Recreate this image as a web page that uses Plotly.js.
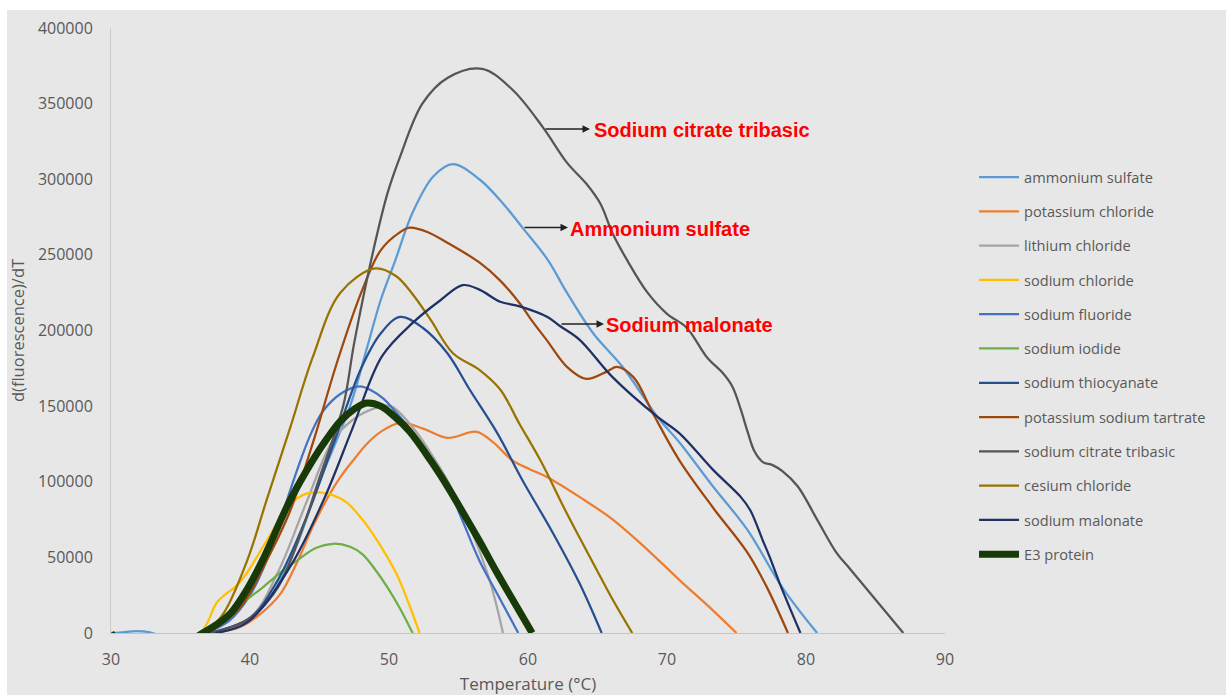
<!DOCTYPE html>
<html>
<head>
<meta charset="utf-8">
<script src="https://cdn.plot.ly/plotly-3.0.1.min.js"></script>
<style>html,body{margin:0;padding:0;background:#fff;}#chart{width:1226px;height:695px;}</style>
</head>
<body>
<div id="chart"></div>
<script>
// Temperature (°C) and d(fluorescence)/dT values
const seriesNames = ["ammonium sulfate","potassium chloride","lithium chloride","sodium chloride","sodium fluoride","sodium iodide","sodium thiocyanate","potassium sodium tartrate","sodium citrate tribasic","cesium chloride","sodium malonate","E3 protein"];

const asT = [30,31,31.8,32.8,34,35.5,37,39,41,43,45,47.2,48.4,49.4,50.4,51.7,53.2,54.6,56.5,58.2,59.6,61.4,62.8,64.7,66.8,69.3,70.9,73.3,75.8,78.3,80.8];
const asV = [0,600,1200,500,-3000,-3000,0,4000,18000,50000,100000,150000,188000,220000,245000,278000,302000,310000,300000,284000,268000,247000,225000,198000,176000,143000,126000,97000,68000,30000,0];

const pcT = [37,39.3,40.8,42.2,43.4,44.5,45.5,46.5,47.5,48.4,49.4,50.8,52.5,54.2,56.3,57.5,58.9,60.2,61.4,63.7,66.1,68.6,70.9,73.3,75.0];
const pcV = [0,4000,13000,26000,47000,70000,88000,103000,115000,125000,133000,139000,135000,129000,133000,126000,114000,108000,103000,90000,75000,55000,35000,15000,0];

const lcT = [37,40,42,44,46,47.4,48.8,50.1,51.7,53.0,54.2,55.1,56.0,57.3,58.2];
const lcV = [0,10000,40000,85000,128000,141000,148000,150000,136000,119000,101000,84000,66000,33000,0];

const ncT = [36.5,37.0,37.6,38.3,39.0,39.8,41.2,42.9,44.0,45.0,46.0,47.0,48.0,48.8,49.7,50.6,51.4,52.2];
const ncV = [0,8000,20000,26000,31000,40000,61000,85000,92000,93000,91000,86000,76000,66000,53000,38000,20000,0];

const sfT = [36.8,38.5,40,41.2,42.2,43.4,44.3,45.2,46.5,47.9,48.8,49.6,50.5,51.5,52.5,54.2,55.3,56.5,57.9,59.3];
const sfV = [0,8000,25000,48000,75000,108000,130000,146000,158000,163000,160000,155000,146000,135000,122000,97000,74000,48000,24000,0];

const niT = [37,38.0,39.5,40.9,42.2,43.4,44.7,46.0,47.2,48.1,49.0,49.9,50.8,51.7];
const niV = [0,7000,20000,30000,40000,48000,56000,59000,57000,52000,42000,30000,16000,0];

const stT = [37,40,42,44,46,48,49.4,50.8,52.4,54.2,55.8,57.8,59.6,61.8,63.7,65.3];
const stV = [0,10000,35000,75000,125000,175000,198000,209000,202000,185000,161000,132000,101000,66000,33000,0];

const pstT = [37,39.3,41.2,42.9,44.5,46.3,48,49.4,50.8,51.5,52.8,54.2,56.5,58.0,59.4,60.4,61.4,62.8,64.2,65.7,66.4,67.6,69.0,70.9,73.3,75.8,77.2,78.7];
const pstV = [0,17000,48000,81000,125000,180000,225000,253000,265000,268000,265000,258000,245000,233000,218000,205000,193000,176000,168000,173000,176000,169000,145000,114000,83000,53000,30000,0];

const scT = [37,38,40,42,44,44.9,46.7,47.5,48.8,49.9,50.8,52.4,54.2,56.7,58.9,61.1,62.8,64.2,65.2,66.1,67.1,68.6,70.0,71.4,72.9,74.0,74.7,75.3,75.8,76.3,76.9,77.6,78.3,79.4,80.8,82.2,83.2,87.0];
const scV = [0,2000,10000,30000,75000,100000,150000,192000,250000,291000,315000,350000,367000,373000,359000,334000,311000,297000,284000,264000,247000,225000,211000,202000,182000,172000,163000,148000,133000,120000,113000,111000,107000,97000,75000,53000,42000,0];

const ccT = [36.8,38.1,39.8,41.2,42.9,44.5,46.5,49.0,50.5,51.7,53.0,54.6,56.5,58.0,59.4,60.9,62.8,64.7,66.1,67.5];
const ccV = [0,13000,48000,88000,136000,182000,225000,241000,236000,224000,207000,185000,174000,161000,138000,114000,79000,46000,22000,0];

const smT = [37.5,39.8,42.9,45.3,47.4,49.5,51.7,53.7,55.3,56.5,58.0,59.4,61.4,62.3,63.7,66.1,69.3,70.9,73.3,75.3,76.0,76.9,77.4,78.1,79.6];
const smV = [0,7000,44000,88000,136000,183000,205000,220000,230000,227000,219000,216000,209000,203000,194000,169000,143000,132000,108000,90000,81000,61000,50000,33000,0];

const e3T = [30,31,35,36.6,37.5,38.6,39.8,40.9,42.9,44.5,45.5,46.5,47.5,48.4,49.4,50.4,51.5,53.0,54.2,55.3,56.5,57.7,58.9,60.3];
const e3V = [0,-8000,-8000,0,5000,13000,29000,48000,88000,114000,128000,140000,148000,152000,150000,143000,133000,114000,97000,80000,61000,41000,22000,0];

const xTicks = [30,40,50,60,70,80,90];
const yTicks = [0,50000,100000,150000,200000,250000,300000,350000,400000];

const seriesT = [asT,pcT,lcT,ncT,sfT,niT,stT,pstT,scT,ccT,smT,e3T];
const seriesV = [asV,pcV,lcV,ncV,sfV,niV,stV,pstV,scV,ccV,smV,e3V];
const colors = ["#5B9BD5","#ED7D31","#A5A5A5","#FFC000","#4472C4","#70AD47","#264F8F","#9E480E","#555555","#997300","#1F3064","#173A08"];

const traces = seriesNames.map((n,i)=>({
  type:'scatter', mode:'lines', name:n, x:seriesT[i], y:seriesV[i],
  legendgroup:'g'+i,
  line:{color:colors[i], width: i===11 ? 7 : 2.25, shape:'spline', smoothing:1.0},
  hoverinfo:'skip'
}));

const gray = '#595959';
const annFont = {family:'Liberation Sans, Arial, sans-serif', size:20, color:'#FF0000', weight:'bold'};
const layout = {
  width:1226, height:695,
  margin:{l:111, r:281, t:28, b:62, pad:0},
  paper_bgcolor:'#ffffff', plot_bgcolor:'#e7e7e7',
  font:{family:'Open Sans, sans-serif', color:gray},
  showlegend:true,
  legend:{x:1.0348, y:0.78, xanchor:'left', yanchor:'top', bgcolor:'rgba(0,0,0,0)',
          font:{size:14.6, color:gray}, traceorder:'grouped', tracegroupgap:12.3, itemwidth:40},
  xaxis:{range:[30,90], tickvals:xTicks, showgrid:false, zeroline:false,
         showline:true, linecolor:'#c4c4c4', linewidth:1, ticks:'outside', ticklen:12, tickcolor:'rgba(0,0,0,0)',
         tickfont:{size:16, color:gray},
         title:{text:'Temperature (°C)', font:{size:17, color:gray}, standoff:13}},
  yaxis:{range:[0,400000], tickvals:yTicks, tickformat:'d', showgrid:false, zeroline:false,
         showline:true, linecolor:'#cccccc', linewidth:1, ticks:'outside', ticklen:14, tickcolor:'rgba(0,0,0,0)',
         tickfont:{size:16, color:gray},
         title:{text:'d(fluorescence)/dT', font:{size:16.5, color:gray}, standoff:9}},
  shapes:[{type:'rect', xref:'paper', yref:'paper', layer:'below',
           x0:(7-111)/834, x1:(1240-111)/834, y0:(633-700)/605, y1:(633-10)/605,
           fillcolor:'#e7e7e7', line:{width:0}}],
  annotations:[
    {x:64.46, y:333200, xref:'x', yref:'y', text:'', showarrow:true, ax:-46, ay:0, arrowhead:2, arrowsize:1, arrowwidth:1.5, arrowcolor:'#222'},
    {x:64.60, y:332600, xref:'x', yref:'y', text:'Sodium citrate tribasic', showarrow:false, xanchor:'left', yanchor:'middle', font:annFont},
    {x:62.88, y:268100, xref:'x', yref:'y', text:'', showarrow:true, ax:-45, ay:0, arrowhead:2, arrowsize:1, arrowwidth:1.5, arrowcolor:'#222'},
    {x:62.90, y:267400, xref:'x', yref:'y', text:'Ammonium sulfate', showarrow:false, xanchor:'left', yanchor:'middle', font:annFont},
    {x:65.47, y:204300, xref:'x', yref:'y', text:'', showarrow:true, ax:-44, ay:0, arrowhead:2, arrowsize:1, arrowwidth:1.5, arrowcolor:'#222'},
    {x:65.50, y:203600, xref:'x', yref:'y', text:'Sodium malonate', showarrow:false, xanchor:'left', yanchor:'middle', font:annFont}
  ]
};
Plotly.newPlot('chart', traces, layout, {displayModeBar:false, staticPlot:true});
</script>
</body>
</html>
